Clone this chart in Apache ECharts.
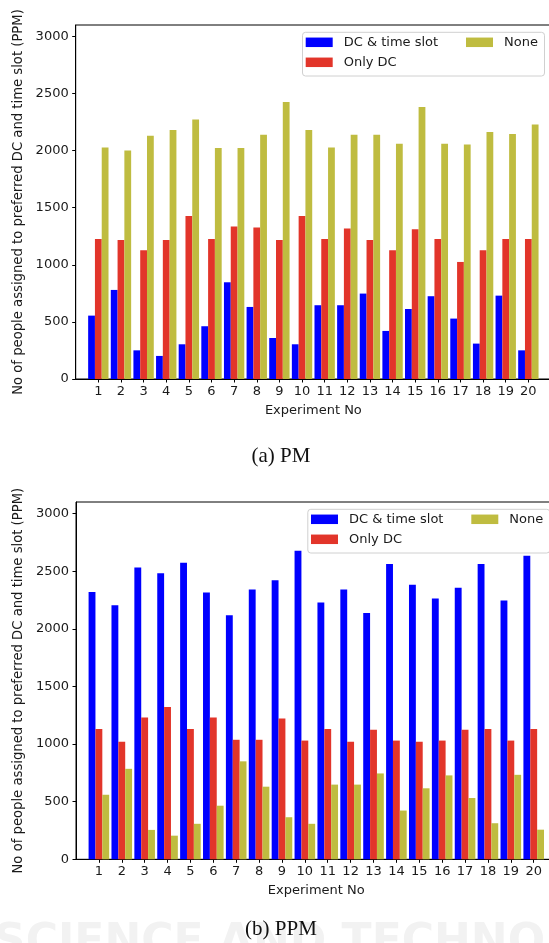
<!DOCTYPE html>
<html>
<head>
<meta charset="utf-8">
<script src="https://cdn.jsdelivr.net/npm/echarts@6/dist/echarts.min.js"></script>
<style>
  html, body { margin: 0; padding: 0; background: #fff; }
  #chart { width: 549px; height: 943px; }
</style>
</head>
<body>
<div id="chart"></div>
<script>
// Experiment numbers shown on the x axis
const experiments = [1, 2, 3, 4, 5, 6, 7, 8, 9, 10, 11, 12, 13, 14, 15, 16, 17, 18, 19, 20];
const yTicks = [0, 500, 1000, 1500, 2000, 2500, 3000];
const seriesNames = ['DC & time slot', 'Only DC', 'None'];

// (a) PM
const pmDcTime = [555, 780, 251, 202, 304, 462, 847, 631, 359, 304, 646, 646, 748, 421, 613, 725, 529, 310, 730, 251];
const pmOnlyDc = [1225, 1218, 1128, 1218, 1428, 1227, 1335, 1326, 1218, 1428, 1227, 1317, 1218, 1128, 1312, 1227, 1025, 1128, 1227, 1227];
const pmNone   = [2027, 2001, 2130, 2180, 2273, 2022, 2022, 2138, 2425, 2180, 2027, 2138, 2138, 2060, 2381, 2060, 2054, 2162, 2145, 2229];

// (b) PPM
const ppmDcTime = [2320, 2205, 2532, 2482, 2572, 2315, 2118, 2341, 2422, 2676, 2228, 2341, 2138, 2563, 2381, 2263, 2355, 2563, 2246, 2633];
const ppmOnlyDc = [1130, 1020, 1230, 1322, 1130, 1230, 1037, 1037, 1221, 1030, 1130, 1020, 1124, 1030, 1020, 1030, 1124, 1130, 1030, 1130];
const ppmNone   = [560, 785, 255, 205, 308, 465, 850, 630, 365, 308, 648, 648, 745, 423, 616, 728, 532, 313, 733, 257];

const colors = ['#0000ff', '#e2352a', '#bfbc40'];
const FONT = 'DejaVu Sans';
const TXT = '#1a1a1a';

const panels = [
  { data: [pmDcTime, pmOnlyDc, pmNone], grid: { left: 75.7, top: 25, width: 475.3, height: 354 } },
  { data: [ppmDcTime, ppmOnlyDc, ppmNone], grid: { left: 76, top: 502, width: 480.6, height: 357.3 } }
];

const pairs = arr => experiments.map((x, i) => [x, arr[i]]);

const grids = [], xAxes = [], yAxes = [], series = [], legends = [], boxes = [];

panels.forEach((p, gi) => {
  grids.push(Object.assign({
    show: true, borderColor: '#000', borderWidth: 1, backgroundColor: 'transparent',
    containLabel: false, outerBoundsMode: 'none'
  }, p.grid));

  xAxes.push({
    gridIndex: gi, type: 'value', min: 0, max: 21, interval: 1,
    name: 'Experiment No', nameLocation: 'middle', nameGap: 25,
    nameTextStyle: { fontFamily: FONT, fontSize: 13, color: TXT },
    splitLine: { show: false },
    axisLine: { show: true, onZero: false, lineStyle: { color: '#000', width: 1 } },
    axisTick: { show: true, length: 3.5, customValues: experiments, lineStyle: { color: '#000' } },
    axisLabel: { customValues: experiments, margin: 6, fontFamily: FONT, fontSize: 13, color: TXT,
                 formatter: v => String(v) }
  });

  yAxes.push({
    gridIndex: gi, type: 'value', min: 0, max: 3100, interval: 500,
    name: 'No of people assigned to preferred DC and time slot (PPM)',
    nameLocation: 'middle', nameGap: 46, nameRotate: 90,
    nameTextStyle: { fontFamily: FONT, fontSize: 13.2, color: TXT },
    splitLine: { show: false },
    axisLine: { show: true, lineStyle: { color: '#000', width: 1 } },
    axisTick: { show: true, length: 3.5, customValues: yTicks, lineStyle: { color: '#000' } },
    axisLabel: { customValues: yTicks, margin: 7, fontFamily: FONT, fontSize: 13, color: TXT,
                 formatter: v => String(v) }
  });

  p.data.forEach((arr, si) => {
    series.push({
      type: 'bar', name: seriesNames[si], xAxisIndex: gi, yAxisIndex: gi,
      data: pairs(arr), barWidth: '30%', barGap: '0%',
      itemStyle: { color: colors[si] }, z: 2
    });
  });

  // legend frame, two columns: first column two entries, second column one
  const dx = gi === 0 ? 0 : 5.3;
  const dy = gi === 0 ? 0 : 477;
  const legendText = { fontFamily: FONT, fontSize: 13, color: TXT, lineHeight: 14, padding: [0, 0, 0, 6] };
  legends.push({
    orient: 'vertical', left: 305.7 + dx, top: 35.3 + dy, padding: 0,
    itemWidth: 27, itemHeight: 9.5, itemGap: 6, icon: 'rect',
    data: [seriesNames[0], seriesNames[1]], textStyle: legendText,
    selectedMode: false, z: 5
  });
  legends.push({
    orient: 'vertical', left: 466 + dx, top: 35.3 + dy, padding: 0,
    itemWidth: 27, itemHeight: 9.5, itemGap: 6, icon: 'rect',
    data: [seriesNames[2]], textStyle: legendText,
    selectedMode: false, z: 5
  });
  boxes.push({
    type: 'rect', z: 4,
    shape: { x: 302.5 + dx, y: 32.3 + dy, width: 242, height: 43.7, r: 3 },
    style: { fill: 'rgba(255,255,255,0.85)', stroke: '#d0d0d0', lineWidth: 1 }
  });
});

// faint publisher mark along the bottom edge
const backdrop = [
  { type: 'text', left: -6, top: 922, z: 0, silent: true,
    style: { text: 'SCIENCE AND TECHNOLOGY', font: 'bold 44px "DejaVu Sans"', fill: '#f2f2f2' } }
];

// sub-figure captions
const captions = [
  { type: 'text', x: 281, y: 456, z: 1,
    style: { text: '(a) PM', font: '21px "Liberation Serif"', fill: '#111', align: 'center', verticalAlign: 'middle' } },
  { type: 'text', x: 281, y: 929, z: 1,
    style: { text: '(b) PPM', font: '21px "Liberation Serif"', fill: '#111', align: 'center', verticalAlign: 'middle' } }
];

const chart = echarts.init(document.getElementById('chart'), null, { renderer: 'canvas' });
chart.setOption({
  animation: false,
  backgroundColor: '#fff',
  grid: grids,
  xAxis: xAxes,
  yAxis: yAxes,
  legend: legends,
  series: series,
  graphic: backdrop.concat(boxes, captions)
});
</script>
</body>
</html>
